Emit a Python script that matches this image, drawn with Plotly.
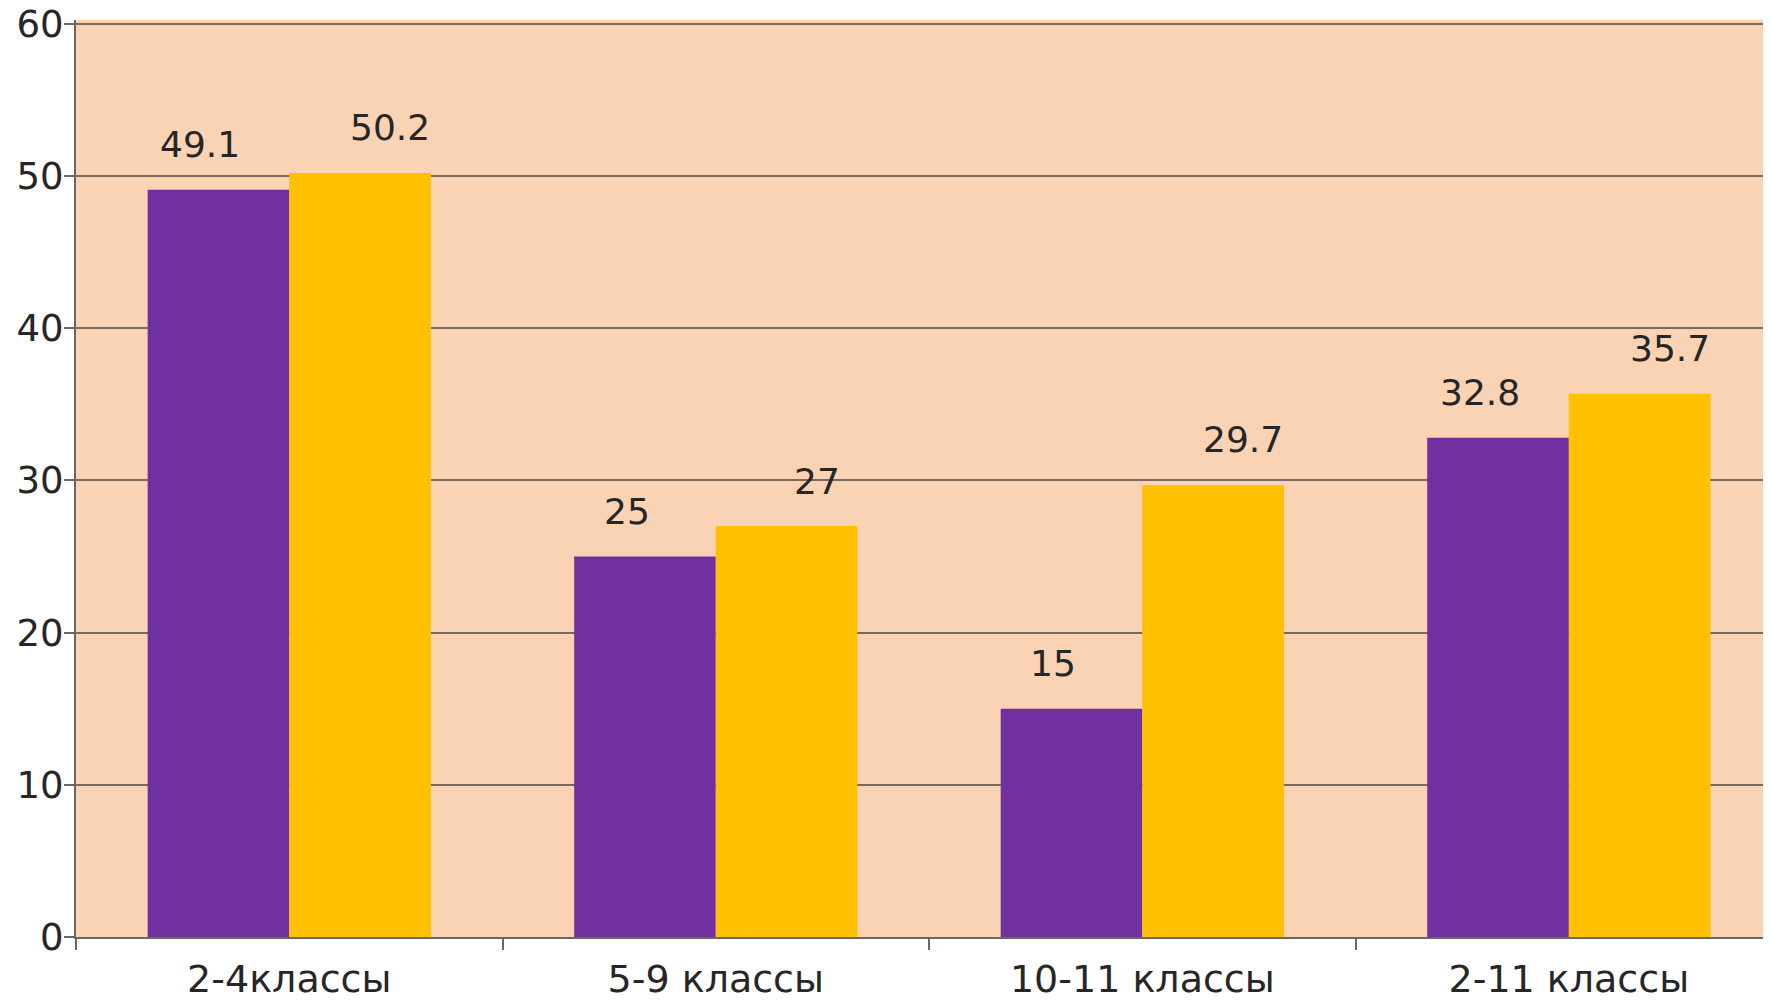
import plotly.graph_objects as go

categories = ["2-4классы", "5-9 классы", "10-11 классы", "2-11 классы"]
series_a = [49.1, 25, 15, 32.8]
series_b = [50.2, 27, 29.7, 35.7]
y_ticks = [0, 10, 20, 30, 40, 50, 60]

PURPLE = "#7030A0"
YELLOW = "#FFC000"
BG = "#FAD3B4"
GRID = "#7A695D"
AXIS = "#6E6660"
TEXT = "#262626"
FONT = "'DejaVu Sans', sans-serif"

fig = go.Figure()
fig.add_trace(go.Bar(x=categories, y=series_a, marker=dict(color=PURPLE, line_width=0),
                     showlegend=False, hoverinfo="y"))
fig.add_trace(go.Bar(x=categories, y=series_b, marker=dict(color=YELLOW, line_width=0),
                     showlegend=False, hoverinfo="y"))

annotations = []
for cat, va, vb in zip(categories, series_a, series_b):
    annotations.append(dict(x=cat, y=va, text=f"{va:g}", showarrow=False,
                            xshift=-89, yshift=45, yanchor="middle",
                            font=dict(size=36, color=TEXT, family=FONT)))
    annotations.append(dict(x=cat, y=vb, text=f"{vb:g}", showarrow=False,
                            xshift=101, yshift=45, yanchor="middle",
                            font=dict(size=36, color=TEXT, family=FONT)))

fig.update_layout(
    width=1763, height=995,
    margin=dict(l=68, r=0, t=12, b=66, autoexpand=False),
    paper_bgcolor="white",
    plot_bgcolor=BG,
    barmode="group",
    bargap=0.336,
    bargroupgap=0,
    font=dict(family=FONT, size=36, color=TEXT),
    annotations=annotations,
)
fig.update_xaxes(
    automargin=False,
    range=[-0.5, 3.474],
    tickson="boundaries",
    ticks="outside", ticklen=11, tickwidth=2, tickcolor=AXIS,
    showline=True, linecolor=AXIS, linewidth=2,
    showgrid=False,
    ticklabelstandoff=7,
    tickfont=dict(size=38, color=TEXT, family=FONT),
)
fig.update_yaxes(
    automargin=False,
    range=[0, 60.25],
    tickvals=y_ticks,
    ticks="outside", ticklen=10, tickwidth=2, tickcolor=AXIS,
    showline=True, linecolor=AXIS, linewidth=2,
    showgrid=True, gridcolor=GRID, gridwidth=2,
    zeroline=False,
    ticklabelstandoff=-7,
    ticklabeloverflow="allow",
    tickfont=dict(size=37, color=TEXT, family=FONT),
)

fig.write_html("out.html")
